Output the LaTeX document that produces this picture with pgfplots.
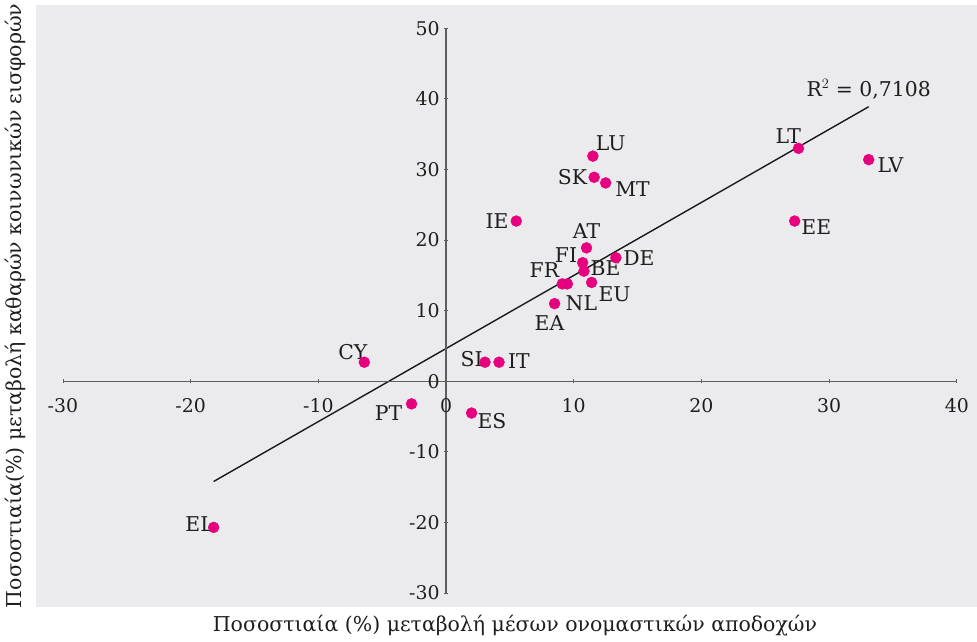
\documentclass[border=0pt]{standalone}
\usepackage{pgfplots}
\pgfplotsset{compat=1.18}
\usepackage{fontspec}
\setmainfont{DejaVu Serif}
\definecolor{panel}{HTML}{EBEBED}
\definecolor{mag}{HTML}{E6007E}
\definecolor{axgray}{HTML}{5E5E5E}
\definecolor{txt}{HTML}{1E1E1E}
\pgfplotstableread{
x y
11.5 31.9
11.6 28.9
12.5 28.1
5.5 22.7
27.6 33.0
33.1 31.4
27.3 22.7
11.0 18.9
10.7 16.8
10.8 15.6
13.3 17.5
9.1 13.8
9.5 13.8
11.4 14.0
8.5 11.0
-6.4 2.7
-2.7 -3.2
-18.2 -20.7
3.05 2.7
4.15 2.7
2.0 -4.5
}\pts
\pgfplotstableread{
x y
-18.2 -14.2
33.1 38.9
}\trend
\begin{document}
\begin{tikzpicture}
\begin{axis}[
  scale only axis, width=896bp, height=566bp,
  xmin=-30, xmax=40, ymin=-30, ymax=50,
  axis lines=middle, axis on top, clip=false,
  axis line style={axgray, line width=1.2bp, -},
  xtick={-30,-20,...,40}, ytick={-30,-20,...,50},
  hide obscured x ticks=false, hide obscured y ticks=false,
  major tick length=4bp, tick style={axgray, line width=0.9bp},
  /pgf/number format/assume math mode=true,
  tick label style={font=\fontsize{19}{20}\selectfont, text=txt},
  xticklabel style={yshift=-12bp},
  yticklabel style={xshift=-1bp},
]
\fill[panel] (axis cs:-32.1,-32.0) rectangle (axis cs:41.6,53.3);
\addplot[black!90, line width=1.4bp] table {\trend};
\addplot[only marks, mark=*, mark size=5.5bp, mark options={fill=mag, draw=mag}] table {\pts};
\begin{scope}[every node/.style={font=\fontsize{20.5}{22}\selectfont, text=txt, inner sep=0pt}]
\node at (axis cs:12.9,33.7) {LU};
\node at (axis cs:9.9,28.9) {SK};
\node at (axis cs:14.6,27.2) {MT};
\node at (axis cs:4.0,22.7) {IE};
\node at (axis cs:26.8,34.8) {LT};
\node at (axis cs:34.8,30.7) {LV};
\node at (axis cs:29.0,21.9) {EE};
\node at (axis cs:11.0,21.3) {AT};
\node at (axis cs:9.4,17.9) {FI};
\node at (axis cs:12.5,16.1) {BE};
\node at (axis cs:15.1,17.5) {DE};
\node at (axis cs:7.7,15.8) {FR};
\node at (axis cs:13.2,12.4) {EU};
\node at (axis cs:10.6,11.1) {NL};
\node at (axis cs:8.1,8.2) {EA};
\node at (axis cs:-7.3,4.1) {CY};
\node at (axis cs:-4.5,-4.5) {PT};
\node at (axis cs:-19.3,-20.3) {EL};
\node at (axis cs:2.0,3.2) {SI};
\node at (axis cs:5.7,2.8) {IT};
\node at (axis cs:3.6,-5.6) {ES};
\node at (axis cs:33.1,41.4) {R$^2$ = 0,7108};
\end{scope}
\node[font=\fontsize{20.6}{22}\selectfont, text=txt] at (axis cs:5.4,-34.55) {Ποσοστιαία (\%) μεταβολή μέσων ονομαστικών αποδοχών};
\node[font=\fontsize{20.6}{22}\selectfont, text=txt, rotate=90] at (axis cs:-33.75,10.7) {Ποσοστιαία(\%) μεταβολή καθαρών κοινωνικών εισφορών};
\coordinate (bbA) at (axis cs:-34.93,-36.81);
\coordinate (bbB) at (axis cs:41.58,54.02);
\end{axis}
\pgfresetboundingbox
\path (bbA) rectangle (bbB);
\end{tikzpicture}
\end{document}
